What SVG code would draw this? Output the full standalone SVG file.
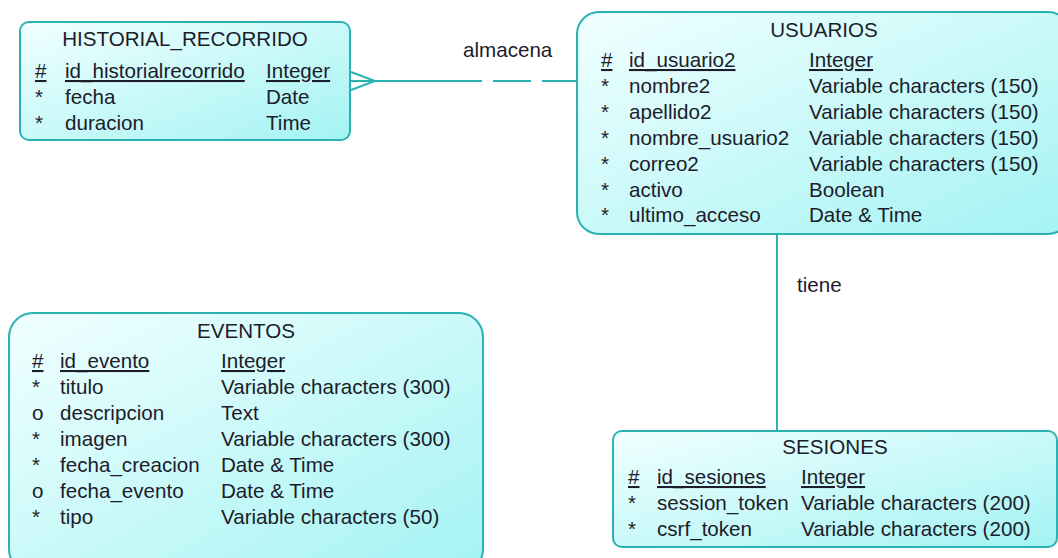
<svg xmlns="http://www.w3.org/2000/svg" width="1058" height="558" viewBox="0 0 1058 558">
  <defs>
    <linearGradient id="entityFill" x1="0" y1="0" x2="1" y2="1">
      <stop offset="0" stop-color="#f1ffff"/>
      <stop offset="1" stop-color="#a4f3f3"/>
    </linearGradient>
    <style>
      .box { fill: url(#entityFill); stroke: #2ab2b2; stroke-width: 2; }
      .conn { fill: none; stroke: #2ab2b2; stroke-width: 2; }
      text { font-family: "Liberation Sans", Arial, sans-serif; font-size: 20.6px; fill: #1c1c2a; }
      .title { text-anchor: middle; }
      .pk { text-decoration: underline; }
    </style>
  </defs>

  <!-- relationships -->
  <g id="connectors">
    <!-- almacena: HISTORIAL_RECORRIDO (many) to USUARIOS -->
    <path class="conn" d="M351 81 H482 M493 81 H531 M542 81 H577"/>
    <path class="conn" d="M351 72 L375 81 L351 90"/>
    <text x="463" y="57">almacena</text>
    <!-- tiene: USUARIOS to SESIONES -->
    <path class="conn" d="M777 234 V431"/>
    <text x="797" y="292">tiene</text>
  </g>

  <g id="historial_recorrido">
    <rect class="box" x="20" y="22" width="330" height="118" rx="9"/>
    <text class="title" x="185" y="46">HISTORIAL_RECORRIDO</text>
    <text class="pk" x="35" y="78">#</text>
    <text class="pk" x="65" y="78">id_historialrecorrido</text>
    <text class="pk" x="266" y="78">Integer</text>
    <text x="35" y="104">*</text><text x="65" y="104">fecha</text><text x="266" y="104">Date</text>
    <text x="35" y="130">*</text><text x="65" y="130">duracion</text><text x="266" y="130">Time</text>
  </g>

  <g id="usuarios">
    <rect class="box" x="577" y="12" width="493" height="222" rx="22"/>
    <text class="title" x="824" y="37">USUARIOS</text>
    <text class="pk" x="601" y="67">#</text>
    <text class="pk" x="629" y="67">id_usuario2</text>
    <text class="pk" x="809" y="67">Integer</text>
    <text x="601" y="93">*</text><text x="629" y="93">nombre2</text><text x="809" y="93">Variable characters (150)</text>
    <text x="601" y="119">*</text><text x="629" y="119">apellido2</text><text x="809" y="119">Variable characters (150)</text>
    <text x="601" y="145">*</text><text x="629" y="145">nombre_usuario2</text><text x="809" y="145">Variable characters (150)</text>
    <text x="601" y="171">*</text><text x="629" y="171">correo2</text><text x="809" y="171">Variable characters (150)</text>
    <text x="601" y="197">*</text><text x="629" y="197">activo</text><text x="809" y="197">Boolean</text>
    <text x="601" y="222">*</text><text x="629" y="222">ultimo_acceso</text><text x="809" y="222">Date &amp; Time</text>
  </g>

  <g id="eventos">
    <rect class="box" x="9" y="313" width="474" height="260" rx="24"/>
    <text class="title" x="246" y="338">EVENTOS</text>
    <text class="pk" x="32" y="368">#</text>
    <text class="pk" x="60" y="368">id_evento</text>
    <text class="pk" x="221" y="368">Integer</text>
    <text x="32" y="394">*</text><text x="60" y="394">titulo</text><text x="221" y="394">Variable characters (300)</text>
    <text x="32" y="420">o</text><text x="60" y="420">descripcion</text><text x="221" y="420">Text</text>
    <text x="32" y="446">*</text><text x="60" y="446">imagen</text><text x="221" y="446">Variable characters (300)</text>
    <text x="32" y="472">*</text><text x="60" y="472">fecha_creacion</text><text x="221" y="472">Date &amp; Time</text>
    <text x="32" y="498">o</text><text x="60" y="498">fecha_evento</text><text x="221" y="498">Date &amp; Time</text>
    <text x="32" y="524">*</text><text x="60" y="524">tipo</text><text x="221" y="524">Variable characters (50)</text>
  </g>

  <g id="sesiones">
    <rect class="box" x="613" y="431" width="444" height="116" rx="9"/>
    <text class="title" x="835" y="454">SESIONES</text>
    <text class="pk" x="628" y="484">#</text>
    <text class="pk" x="657" y="484">id_sesiones</text>
    <text class="pk" x="801" y="484">Integer</text>
    <text x="628" y="510">*</text><text x="657" y="510">session_token</text><text x="801" y="510">Variable characters (200)</text>
    <text x="628" y="536">*</text><text x="657" y="536">csrf_token</text><text x="801" y="536">Variable characters (200)</text>
  </g>
</svg>
